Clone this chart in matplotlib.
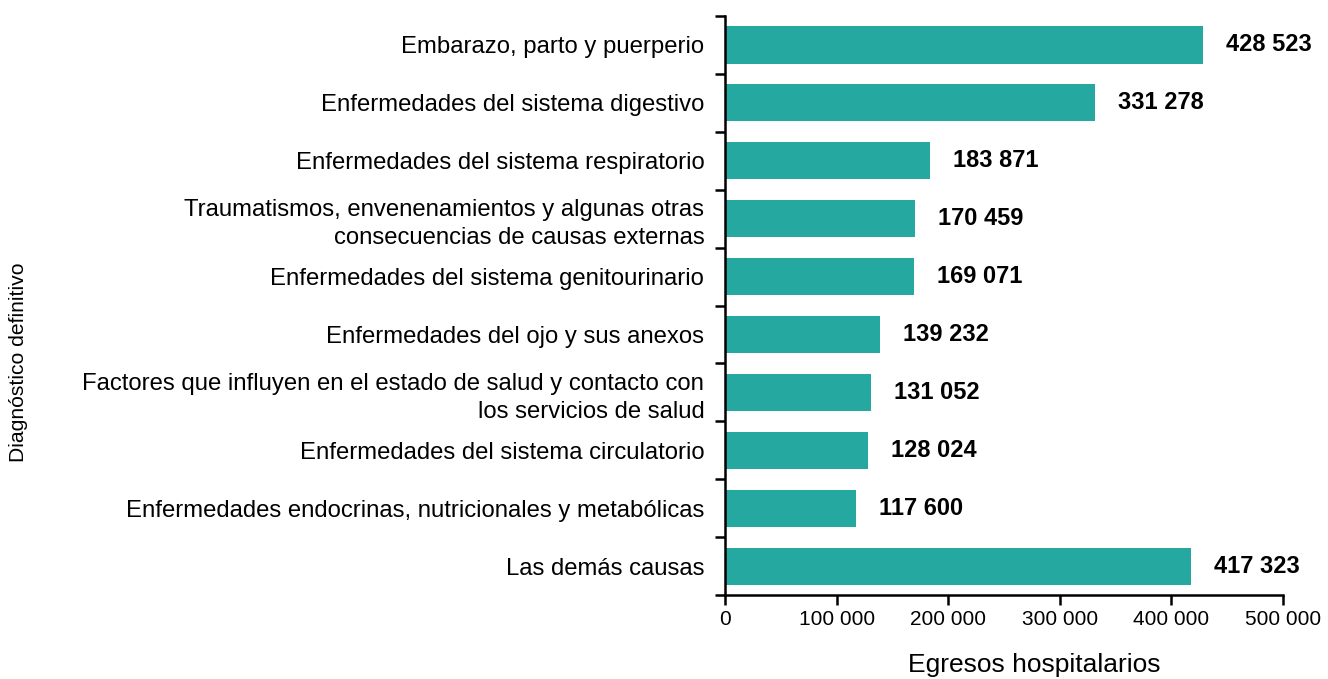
import numpy as np
import matplotlib.pyplot as plt

# datos
categorias = [
    "Embarazo, parto y puerperio",
    "Enfermedades del sistema digestivo",
    "Enfermedades del sistema respiratorio",
    "Traumatismos, envenenamientos y algunas otras\nconsecuencias de causas externas",
    "Enfermedades del sistema genitourinario",
    "Enfermedades del ojo y sus anexos",
    "Factores que influyen en el estado de salud y contacto con\nlos servicios de salud",
    "Enfermedades del sistema circulatorio",
    "Enfermedades endocrinas, nutricionales y metabólicas",
    "Las demás causas",
]
egresos = [428523, 331278, 183871, 170459, 169071, 139232, 131052, 128024, 117600, 417323]
xticks = [0, 100000, 200000, 300000, 400000, 500000]


def fmt(v):
    return f"{v:,}".replace(",", " ")


plt.rcParams['font.family'] = ['Liberation Sans', 'DejaVu Sans']

fig = plt.figure(figsize=(13.28, 6.79), dpi=100)
ax = fig.add_axes([0.546, 0.1237, 0.4201, 0.8527])

y = np.arange(len(categorias))
ax.barh(y, egresos, height=0.64, color='#25A8A0', edgecolor='none')

ax.set_ylim(len(categorias) - 0.5, -0.5)
ax.set_xlim(0, 500000)

for yi, v in zip(y, egresos):
    ax.text(v + 20500, yi, fmt(v), va='center', ha='left',
            fontsize=17, fontweight='bold', color='black')

ax.set_yticks(y)
ax.set_yticklabels(categorias, fontsize=17.2, linespacing=1.35)
ax.tick_params(axis='y', which='major', length=0, pad=15)
ax.set_yticks(np.arange(-0.5, len(categorias), 1), minor=True)
ax.tick_params(axis='y', which='minor', length=7, width=1.8, direction='out')

ax.set_xticks(xticks)
ax.set_xticklabels([fmt(t) for t in xticks], fontsize=15)
ax.tick_params(axis='x', length=7, width=1.8, direction='out', pad=4)

for s in ['top', 'right']:
    ax.spines[s].set_visible(False)
for s in ['left', 'bottom']:
    ax.spines[s].set_linewidth(1.8)

fig.text(0.7786, 0.021, "Egresos hospitalarios", fontsize=19,
         ha='center', va='center')
fig.text(0.007, 0.467, "Diagnóstico definitivo", rotation=90,
         fontsize=15.2, va='center', ha='left')

fig.savefig("out.png", dpi=100)
